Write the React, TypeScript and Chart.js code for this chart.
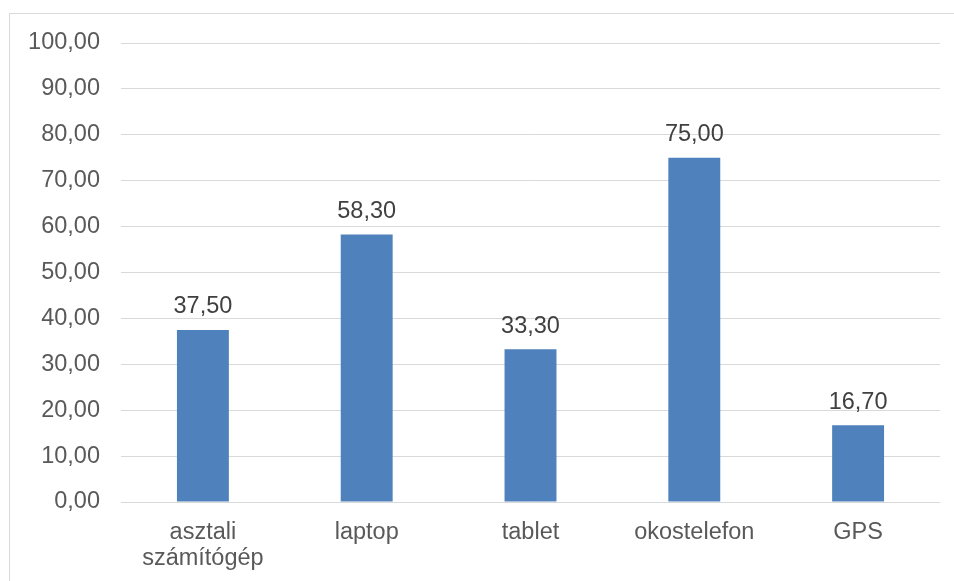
import React, { useEffect, useRef } from "react";
import { Chart, registerables } from "chart.js";

Chart.register(...registerables);

const categories: (string | string[])[] = [
  ["asztali", "számítógép"],
  "laptop",
  "tablet",
  "okostelefon",
  "GPS",
];
const values: number[] = [37.5, 58.3, 33.3, 75.0, 16.7];
const yTickValues: number[] = [0, 10, 20, 30, 40, 50, 60, 70, 80, 90, 100];
const yTickLabels: string[] = [
  "0,00", "10,00", "20,00", "30,00", "40,00", "50,00",
  "60,00", "70,00", "80,00", "90,00", "100,00",
];

const fmt = (v: number) => v.toFixed(2).replace(".", ",");
const FONT = "'Liberation Sans', Arial, sans-serif";
const FSIZE = 23.5;

export default function App() {
  const ref = useRef<HTMLCanvasElement | null>(null);

  useEffect(() => {
    document.body.style.margin = "0";
    const canvas = ref.current;
    if (!canvas) return;

    const framePlugin = {
      id: "frame",
      beforeDraw(chart: any) {
        const ctx = chart.ctx;
        ctx.save();
        ctx.fillStyle = "#ffffff";
        ctx.fillRect(0, 0, chart.width, chart.height);
        ctx.strokeStyle = "#d9d9d9";
        ctx.lineWidth = 1;
        ctx.strokeRect(9.5, 13.5, 3000, 3000);
        ctx.restore();
      },
    };

    const labelPlugin = {
      id: "datalabels",
      afterDatasetsDraw(chart: any) {
        const ctx = chart.ctx;
        const meta = chart.getDatasetMeta(0);
        ctx.save();
        ctx.font = `${FSIZE}px ${FONT}`;
        ctx.fillStyle = "#404040";
        ctx.textAlign = "center";
        ctx.textBaseline = "alphabetic";
        meta.data.forEach((bar: any, i: number) => {
          ctx.fillText(fmt(values[i]), bar.x, bar.y - 16.5);
        });
        ctx.restore();
      },
    };

    const chart = new Chart(canvas, {
      type: "bar",
      data: {
        labels: categories,
        datasets: [
          {
            data: values,
            backgroundColor: "#4f81bd",
            borderWidth: 0,
            categoryPercentage: 1,
            barPercentage: 0.317,
          },
        ],
      },
      options: {
        animation: false,
        responsive: false,
        maintainAspectRatio: false,
        layout: { padding: { left: 0, right: 14, top: 43, bottom: 0 } },
        plugins: {
          legend: { display: false },
          tooltip: { enabled: false },
        },
        scales: {
          x: {
            grid: { display: false, drawTicks: false },
            border: { display: false },
            ticks: {
              color: "#595959",
              padding: 18,
              font: { family: FONT, size: FSIZE, lineHeight: "26px" },
              maxRotation: 0,
              autoSkip: false,
            },
            afterFit(scale: any) {
              scale.height = 79;
            },
          },
          y: {
            min: 0,
            max: 100,
            afterBuildTicks(scale: any) {
              scale.ticks = yTickValues.map((v) => ({ value: v }));
            },
            grid: { color: "#d9d9d9", lineWidth: 1, drawTicks: false },
            border: { display: false },
            ticks: {
              color: "#595959",
              padding: 21,
              font: { family: FONT, size: FSIZE },
              callback: (v: any) => {
                const idx = yTickValues.indexOf(Number(v));
                return idx >= 0 ? yTickLabels[idx] : "";
              },
            },
            afterFit(scale: any) {
              scale.width = 121;
            },
          },
        },
      },
      plugins: [framePlugin, labelPlugin],
    });

    return () => chart.destroy();
  }, []);

  return (
    <div style={{ width: 954, height: 581, position: "relative" }}>
      <canvas ref={ref} width={954} height={581} style={{ display: "block" }} />
    </div>
  );
}
